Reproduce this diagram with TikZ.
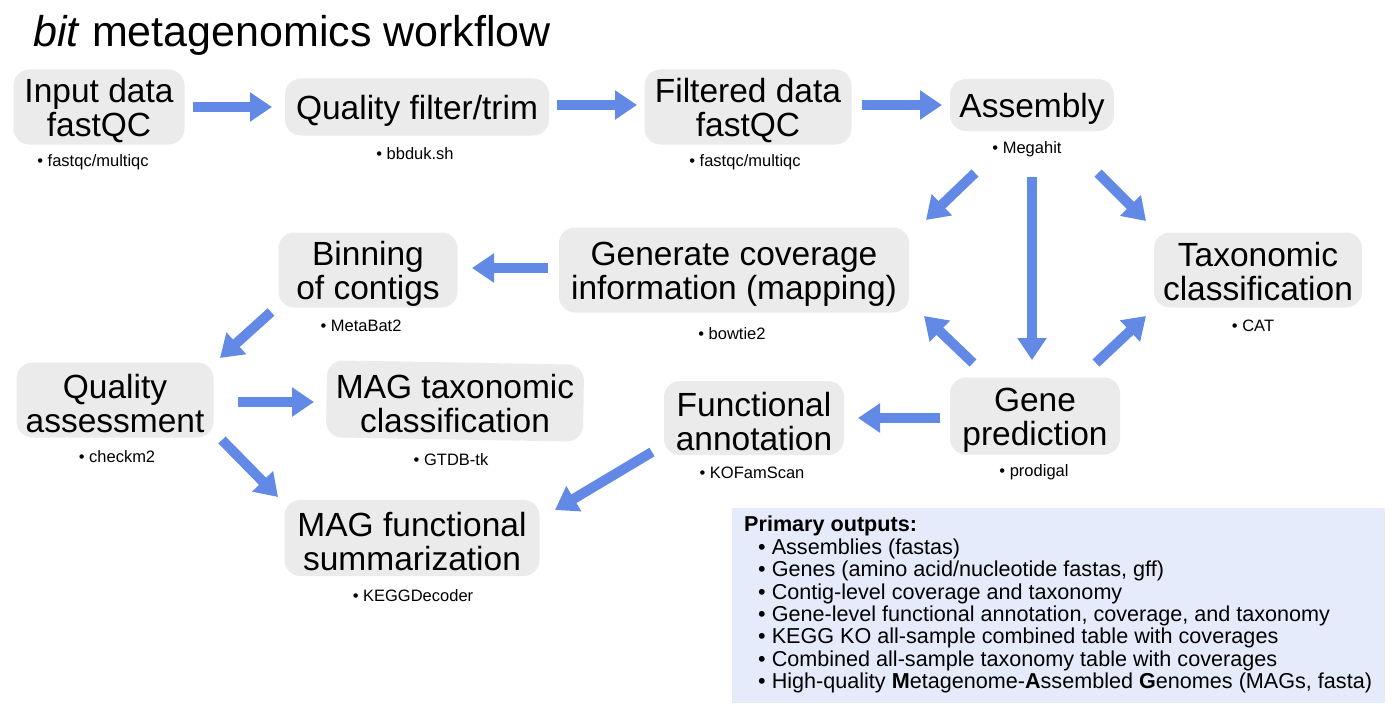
\documentclass[tikz,border=0pt]{standalone}
\usepackage{fontspec}
\setmainfont{Liberation Sans}
\usetikzlibrary{arrows.meta,calc}
\definecolor{boxgray}{HTML}{EBEBEB}
\definecolor{arrblue}{HTML}{6389E6}
\definecolor{outblue}{HTML}{E6EBFB}
\begin{document}
\begin{tikzpicture}[x=1pt,y=-1pt,
  stepbox/.style={draw=none,fill=boxgray,rounded corners=16pt,inner sep=0pt},
  steptext/.style={align=center,inner sep=0pt,font=\fontsize{33.5}{34}\selectfont},
  tool/.style={inner sep=0pt,font=\fontsize{16.5}{18}\selectfont},
  arr/.style={draw=arrblue,line width=10pt,-{Triangle[width=28pt,length=22pt]}}]
\useasboundingbox (0,0) rectangle (1400,717);
\fill[white] (0,0) rectangle (1400,717);
\node[anchor=base west,inner sep=0pt,font=\fontsize{43}{46}\selectfont] (title) at (33,47) {\textit{bit} metagenomics workflow};
% boxes
\node[stepbox,minimum width=171pt,minimum height=75pt] (in) at (99,107) {};
\node[stepbox,minimum width=264pt,minimum height=57pt] (qf) at (417,107) {};
\node[stepbox,minimum width=207pt,minimum height=75pt] (fd) at (748,107) {};
\node[stepbox,minimum width=164pt,minimum height=52pt] (as) at (1032,105) {};
\node[stepbox,minimum width=350pt,minimum height=85pt] (gc) at (734,270) {};
\node[stepbox,minimum width=179pt,minimum height=75pt] (bin) at (368,270) {};
\node[stepbox,minimum width=208pt,minimum height=75pt] (tax) at (1258,270) {};
\node[stepbox,minimum width=197pt,minimum height=75pt] (qa) at (115,400) {};
\node[stepbox,minimum width=257pt,minimum height=77pt,rotate=-1] (mt) at (455,401) {};
\node[stepbox,minimum width=180pt,minimum height=74pt] (fa) at (754,418) {};
\node[stepbox,minimum width=170pt,minimum height=77pt] (gp) at (1035,416) {};
\node[stepbox,minimum width=255pt,minimum height=76pt] (mf) at (412,538) {};
% box texts
\node[steptext] (inT) at ($(in)+(0,4)$) {Input data\\fastQC};
\node[steptext] (qfT) at ($(qf)+(0,4)$) {Quality filter/trim};
\node[steptext] (fdT) at ($(fd)+(0,4)$) {Filtered data\\fastQC};
\node[steptext] (asT) at ($(as)+(0,4)$) {Assembly};
\node[steptext] (gcT) at ($(gc)+(0,4)$) {Generate coverage\\information (mapping)};
\node[steptext] (binT) at ($(bin)+(0,4)$) {Binning\\of contigs};
\node[steptext] (taxT) at ($(tax)+(0,2)$) {Taxonomic\\classification};
\node[steptext] (qaT) at ($(qa)+(0,4)$) {Quality\\assessment};
\node[steptext] (mtT) at ($(mt)+(0,3)$) {MAG taxonomic\\classification};
\node[steptext] (faT) at ($(fa)+(0,4)$) {Functional\\annotation};
\node[steptext] (gpT) at ($(gp)+(0,4)$) {Gene\\prediction};
\node[steptext] (mfT) at ($(mf)+(0,4)$) {MAG functional\\summarization};
% tool labels
\node[tool] (inl) at (93,162) {• fastqc/multiqc};
\node[tool] (qfl) at (415,154) {• bbduk.sh};
\node[tool] (fdl) at (745,162) {• fastqc/multiqc};
\node[tool] (asl) at (1027,149) {• Megahit};
\node[tool] (gcl) at (732,334) {• bowtie2};
\node[tool] (binl) at (361,326) {• MetaBat2};
\node[tool] (taxl) at (1253,326) {• CAT};
\node[tool] (qal) at (117,457) {• checkm2};
\node[tool] (mtl) at (451,460) {• GTDB-tk};
\node[tool] (fal) at (752,473) {• KOFamScan};
\node[tool] (gpl) at (1034,472) {• prodigal};
\node[tool] (mfl) at (413,596) {• KEGGDecoder};
% arrows
\draw[arr] ($(in)+(94,0)$) -- ($(qf)+(-145,0)$);
\draw[arr] ($(qf)+(140,-2)$) -- ($(fd)+(-111,-2)$);
\draw[arr] ($(fd)+(114,-2)$) -- ($(as)+(-90,0)$);
\draw[arr] ($(as)+(-57,68)$) -- ($(gc)+(192,-50)$);
\draw[arr] ($(as)+(0,72)$) -- ($(gp)+(-3,-56)$);
\draw[arr] ($(as)+(66,68)$) -- ($(tax)+(-112,-49)$);
\draw[arr] ($(gp)+(-62,-53)$) -- ($(gc)+(190,46)$);
\draw[arr] ($(gp)+(61,-53)$) -- ($(tax)+(-112,46)$);
\draw[arr] ($(gc)+(-186,-2)$) -- ($(bin)+(104,-2)$);
\draw[arr] ($(bin)+(-97,42)$) -- ($(qa)+(105,-42)$);
\draw[arr] ($(qa)+(123,2)$) -- ($(mt)+(-141,1)$);
\draw[arr] ($(qa)+(107,40)$) -- ($(mf)+(-134,-41)$);
\draw[arr] ($(gp)+(-95,2)$) -- ($(fa)+(104,0)$);
\draw[arr] ($(fa)+(-102,34)$) -- ($(mf)+(143,-28)$);
% outputs box
\fill[outblue] (732,508) rectangle (1385,703);
\node[anchor=north west,inner sep=0pt,align=left,font=\fontsize{21.6}{22.4}\selectfont] (out) at (744,516)
{\textbf{Primary outputs:}\\
\hspace*{14pt}• Assemblies (fastas)\\
\hspace*{14pt}• Genes (amino acid/nucleotide fastas, gff)\\
\hspace*{14pt}• Contig-level coverage and taxonomy\\
\hspace*{14pt}• Gene-level functional annotation, coverage, and taxonomy\\
\hspace*{14pt}• KEGG KO all-sample combined table with coverages\\
\hspace*{14pt}• Combined all-sample taxonomy table with coverages\\
\hspace*{14pt}• High-quality \textbf{M}etagenome-\textbf{A}ssembled \textbf{G}enomes (MAGs, fasta)};
\end{tikzpicture}
\end{document}
